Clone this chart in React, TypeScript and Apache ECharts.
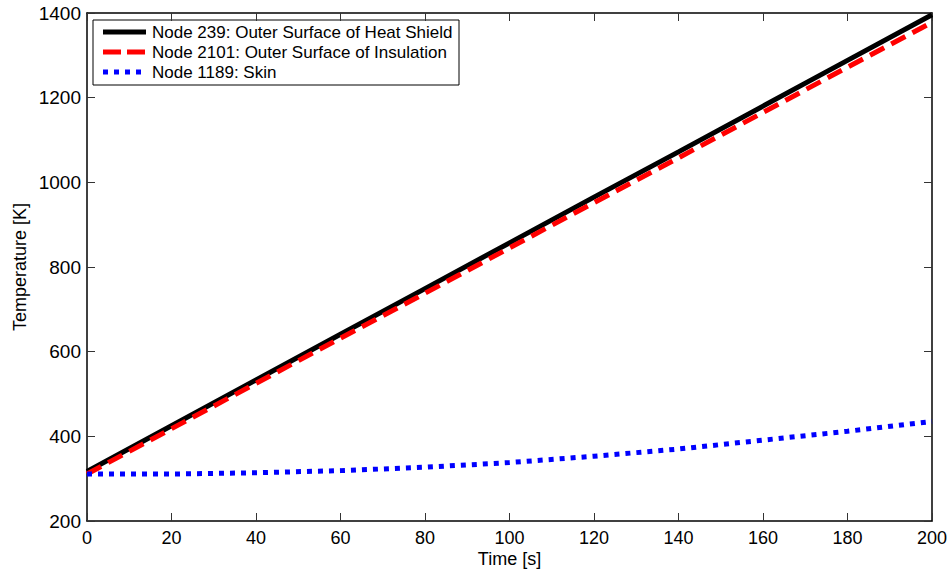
import React, { useEffect, useRef } from "react";
import * as echarts from "echarts";

const timeS = [0, 20, 40, 60, 80, 100, 120, 140, 160, 180, 200];
const heatShield = [317, 425, 533, 641, 749, 857, 965, 1072, 1180, 1288, 1396];
const insulation = [311, 418, 525, 632, 738, 845, 952, 1058, 1165, 1272, 1378];
const skin = [311, 311, 314, 319, 327, 338, 353, 370, 391, 412, 435];

const seriesNames = [
  "Node 239: Outer Surface of Heat Shield",
  "Node 2101: Outer Surface of Insulation",
  "Node 1189: Skin",
];
const seriesColors = ["#000000", "#ff0000", "#0000ff"];
const seriesDash: (number[] | null)[] = [null, [18, 6], [5, 6]];
const yTicks = [200, 400, 600, 800, 1000, 1200, 1400];
const xTicks = [0, 20, 40, 60, 80, 100, 120, 140, 160, 180, 200];

const FONT = 'Arial, "Liberation Sans", Helvetica, sans-serif';

function pairs(ys: number[]) {
  return timeS.map((t, i) => [t, ys[i]]);
}

export default function App() {
  const ref = useRef<HTMLDivElement>(null);
  useEffect(() => {
    if (!ref.current) return;
    const chart = echarts.init(ref.current, null, { renderer: "svg" });
    const xMin = xTicks[0];
    const xMax = xTicks[xTicks.length - 1];
    const yMin = yTicks[0];
    const yMax = yTicks[yTicks.length - 1];
    const axisLine = { show: true, onZero: false, lineStyle: { color: "#000", width: 1.5 } };
    const tick = { show: true, inside: true, length: 8, lineStyle: { color: "#333", width: 1 } };

    // legend drawn as graphic elements (MATLAB-style box)
    const lgX = 93, lgY = 20, lgW = 366, lgH = 65;
    const legendChildren: any[] = [
      {
        type: "rect",
        shape: { x: lgX, y: lgY, width: lgW, height: lgH },
        style: { fill: "#fff", stroke: "#000", lineWidth: 1 },
      },
    ];
    seriesNames.forEach((nm, i) => {
      const cy = lgY + 12 + i * 20;
      legendChildren.push({
        type: "line",
        shape: { x1: 103, y1: cy, x2: 146, y2: cy },
        style: {
          stroke: seriesColors[i],
          lineWidth: 5,
          lineDash: seriesDash[i] || undefined,
        },
      });
      legendChildren.push({
        type: "text",
        x: 152,
        y: cy,
        style: {
          text: nm,
          fontSize: 17,
          fontFamily: FONT,
          fill: "#000",
          verticalAlign: "middle",
          align: "left",
        },
      });
    });

    chart.setOption({
      animation: false,
      backgroundColor: "#fff",
      textStyle: { fontFamily: FONT },
      grid: {
        left: 87,
        right: 18,
        top: 13,
        bottom: 48,
        containLabel: false,
        outerBoundsMode: "none",
      },
      graphic: [{ type: "group", z: 100, children: legendChildren }],
      xAxis: [
        {
          type: "value",
          min: xMin,
          max: xMax,
          interval: 20,
          name: "Time [s]",
          nameLocation: "middle",
          nameGap: 29,
          nameMoveOverlap: false,
          nameTextStyle: { fontSize: 18, lineHeight: 18, color: "#000", fontFamily: FONT },
          axisLine,
          axisTick: tick,
          axisLabel: { fontSize: 18, lineHeight: 18, color: "#000", margin: 8, fontFamily: FONT },
          splitLine: { show: false },
        },
        {
          type: "value",
          position: "top",
          min: xMin,
          max: xMax,
          interval: 20,
          axisLine,
          axisTick: tick,
          axisLabel: { show: false },
          splitLine: { show: false },
        },
      ],
      yAxis: [
        {
          type: "value",
          min: yMin,
          max: yMax,
          interval: 200,
          name: "Temperature [K]",
          nameLocation: "middle",
          nameGap: 58,
          nameMoveOverlap: false,
          nameTextStyle: { fontSize: 18, color: "#000", fontFamily: FONT },
          axisLine,
          axisTick: tick,
          axisLabel: {
            fontSize: 19,
            color: "#000",
            margin: 6,
            fontFamily: FONT,
            formatter: (v: number) => String(v),
          },
          splitLine: { show: false },
        },
        {
          type: "value",
          position: "right",
          min: yMin,
          max: yMax,
          interval: 200,
          axisLine,
          axisTick: tick,
          axisLabel: { show: false },
          splitLine: { show: false },
        },
      ],
      series: [
        {
          name: seriesNames[0],
          type: "line",
          data: pairs(heatShield),
          symbol: "none",
          showSymbol: false,
          lineStyle: { color: seriesColors[0], width: 5, type: "solid" },
        },
        {
          name: seriesNames[1],
          type: "line",
          data: pairs(insulation),
          symbol: "none",
          showSymbol: false,
          lineStyle: { color: seriesColors[1], width: 5, type: [16, 8] },
        },
        {
          name: seriesNames[2],
          type: "line",
          data: pairs(skin),
          symbol: "none",
          showSymbol: false,
          lineStyle: { color: seriesColors[2], width: 5, type: [5, 6] },
        },
      ],
    });
    return () => chart.dispose();
  }, []);
  return (
    <div
      ref={ref}
      style={{ position: "fixed", left: 0, top: 0, width: 950, height: 569, background: "#fff" }}
    />
  );
}
